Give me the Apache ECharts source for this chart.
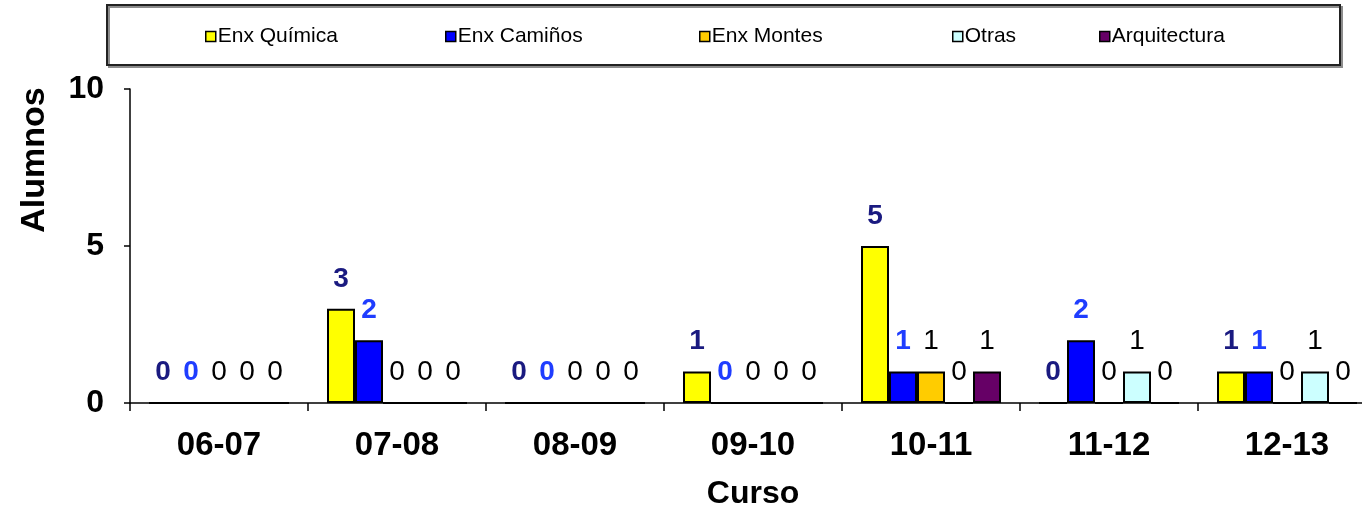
<!DOCTYPE html>
<html>
<head>
<meta charset="utf-8">
<title>Alumnos por curso</title>
<script src="https://cdn.jsdelivr.net/npm/echarts@6/dist/echarts.min.js"></script>
<style>
  html, body { margin: 0; padding: 0; background: #fff; }
  #chart { width: 1362px; height: 509px; }
</style>
</head>
<body>
<div id="chart"></div>
<script>
// datos del grafico
var cursos = ['06-07', '07-08', '08-09', '09-10', '10-11', '11-12', '12-13']
var enxQuimica = [0, 3, 0, 1, 5, 0, 1]
var enxCaminos = [0, 2, 0, 0, 1, 2, 1]
var enxMontes = [0, 0, 0, 0, 1, 0, 0]
var otras = [0, 0, 0, 0, 0, 1, 1]
var arquitectura = [0, 0, 0, 0, 1, 0, 0]
var yTicks = [0, 5, 10]

var fontFamily = '"Liberation Sans", Arial, sans-serif'

var seriesDefs = [
  { name: 'Enx Química', data: enxQuimica, color: '#ffff00', label: '#1a1a80', bold: true, legendX: 205 },
  { name: 'Enx Camiños', data: enxCaminos, color: '#0000ff', label: '#1f3dff', bold: true, legendX: 445 },
  { name: 'Enx Montes', data: enxMontes, color: '#ffcc00', label: '#000', bold: false, legendX: 699 },
  { name: 'Otras', data: otras, color: '#ccffff', label: '#000', bold: false, legendX: 952 },
  { name: 'Arquitectura', data: arquitectura, color: '#660066', label: '#000', bold: false, legendX: 1099 }
]

var chart = echarts.init(document.getElementById('chart'))

// una leyenda por serie, para colocarlas como en el original
var legends = seriesDefs.map(function (s) {
  return {
    data: [s.name],
    left: s.legendX,
    top: 26,
    itemWidth: 10,
    itemHeight: 10,
    itemGap: 0,
    padding: 0,
    icon: 'rect',
    selectedMode: false,
    itemStyle: { borderColor: '#000', borderWidth: 1.5 },
    textStyle: { fontFamily: fontFamily, fontSize: 21, color: '#000', padding: [0, 0, 0, -3] }
  }
})

var series = seriesDefs.map(function (s) {
  return {
    name: s.name,
    type: 'bar',
    barWidth: 28,
    barGap: '0%',
    data: s.data,
    itemStyle: { color: s.color, borderColor: '#000', borderWidth: 2 },
    label: {
      show: true,
      position: 'top',
      distance: 16,
      fontFamily: fontFamily,
      fontSize: 28,
      fontWeight: s.bold ? 'bold' : 'normal',
      color: s.label
    }
  }
})

chart.setOption({
  animation: false,
  textStyle: { fontFamily: fontFamily },
  legend: legends,
  graphic: [{
    type: 'rect',
    shape: { x: 107, y: 5, width: 1233, height: 60 },
    style: {
      fill: 'none',
      stroke: '#222',
      lineWidth: 2,
      shadowColor: 'rgba(0,0,0,0.45)',
      shadowOffsetX: 2,
      shadowOffsetY: 2
    },
    z: -1
  }, {
    type: 'text',
    x: 35,
    y: 160,
    rotation: Math.PI / 2,
    style: {
      text: 'Alumnos',
      fontFamily: fontFamily,
      fontSize: 34,
      fontWeight: 'bold',
      fill: '#000',
      textAlign: 'center',
      textVerticalAlign: 'middle'
    }
  }],
  // el ultimo curso queda cortado por el borde derecho, como en el original
  grid: {
    left: 130,
    right: -14,
    top: 89,
    bottom: 106,
    outerBoundsMode: 'none'
  },
  xAxis: {
    type: 'category',
    data: cursos,
    name: 'Curso',
    nameLocation: 'middle',
    nameGap: 75,
    nameTextStyle: { fontFamily: fontFamily, fontSize: 32, fontWeight: 'bold', color: '#000' },
    axisLine: { lineStyle: { color: '#000', width: 1.5 } },
    axisTick: { show: true, length: 8, lineStyle: { color: '#000', width: 1.5 } },
    axisLabel: { margin: 26, fontFamily: fontFamily, fontSize: 33, fontWeight: 'bold', color: '#000' }
  },
  yAxis: {
    type: 'value',
    min: yTicks[0],
    max: yTicks[yTicks.length - 1],
    interval: yTicks[1] - yTicks[0],
    splitLine: { show: false },
    axisLine: { show: true, lineStyle: { color: '#000', width: 1.5 } },
    axisTick: { show: true, length: 6, lineStyle: { color: '#000', width: 1.5 } },
    axisLabel: { margin: 26, fontFamily: fontFamily, fontSize: 32, fontWeight: 'bold', color: '#000' }
  },
  series: series
})
</script>
</body>
</html>
